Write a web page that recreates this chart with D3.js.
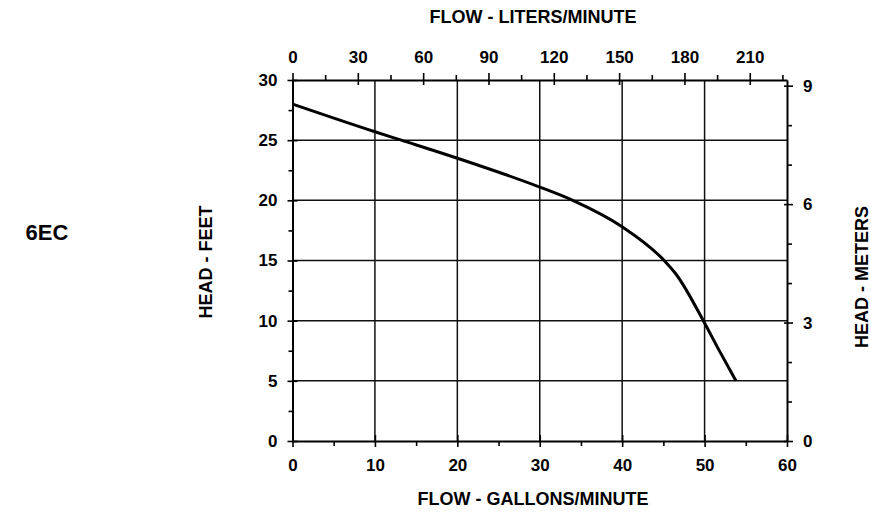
<!DOCTYPE html>
<meta charset="utf-8">
<style>
  body { margin: 0; background: #fff; }
  text { font-family: "Liberation Sans", Arial, sans-serif; font-weight: bold; fill: #000; }
  .axis path { stroke: #000; stroke-width: 2; }
  .axis line { stroke: #000; stroke-width: 1.6; }
  .axis text { font-size: 17px; }
  .grid line { stroke: #111; stroke-width: 1.5; }
</style>
<svg width="871" height="512"></svg>
<script src="https://cdnjs.cloudflare.com/ajax/libs/d3/7.8.5/d3.min.js"></script>
<script>
  // pump curve: flow in gpm, head in feet
  var flowGpm = [0, 10, 13.2, 20, 30, 34, 40, 45.1, 46.5, 49.85, 51.75, 53.8];
  var headFt = [28, 25.7, 25, 23.5, 21.1, 20, 17.8, 15, 13.9, 10, 7.55, 5];

  var gpmTicks = [0, 10, 20, 30, 40, 50, 60];
  var gpmMinor = [5, 15, 25, 35, 45, 55];
  var ftTicks = [0, 5, 10, 15, 20, 25, 30];
  var ftMinor = [2.5, 7.5, 12.5, 17.5, 22.5, 27.5];
  var lpmTicks = [0, 30, 60, 90, 120, 150, 180, 210];
  var lpmMinor = [15, 45, 75, 105, 135, 165, 195, 225];
  var mTicks = [0, 3, 6, 9];
  var mMinor = [1, 2, 4, 5, 7, 8];

  var svg = d3.select("svg");
  var pLeft = 292.5, pRight = 787, pTop = 80, pBottom = 441;

  var x = d3.scaleLinear().domain([0, 60]).range([pLeft, pRight]);
  var y = d3.scaleLinear().domain([0, 30]).range([pBottom, pTop]);
  var xL = d3.scaleLinear().domain([0, 60 * 3.785]).range([pLeft, pRight]);
  var yM = d3.scaleLinear().domain([0, 30 / 3.281]).range([pBottom, pTop]);

  // grid
  var grid = svg.append("g").attr("class", "grid");
  grid.selectAll(".v").data(gpmTicks.slice(1, -1)).enter().append("line")
    .attr("x1", x).attr("x2", x).attr("y1", pTop).attr("y2", pBottom);
  grid.selectAll(".h").data(ftTicks.slice(1, -1)).enter().append("line")
    .attr("y1", y).attr("y2", y).attr("x1", pLeft).attr("x2", pRight);

  function crossTicks(g, attr, inner) {
    g.selectAll(".tick line").attr(attr, inner);
  }

  // bottom
  var gb = svg.append("g").attr("class", "axis").attr("transform", "translate(0," + pBottom + ")");
  gb.call(d3.axisBottom(x).tickValues(gpmTicks).tickSize(6).tickSizeOuter(0).tickPadding(12).tickFormat(d3.format("d")));
  crossTicks(gb, "y1", -6);
  svg.append("g").attr("class", "axis").attr("transform", "translate(0," + pBottom + ")")
    .call(d3.axisBottom(x).tickValues(gpmMinor).tickSize(5).tickFormat(""))
    .select(".domain").remove();

  // left
  var gl = svg.append("g").attr("class", "axis").attr("transform", "translate(" + pLeft + ",0)");
  gl.call(d3.axisLeft(y).tickValues(ftTicks).tickSize(5).tickSizeOuter(0).tickPadding(10).tickFormat(d3.format("d")));
  crossTicks(gl, "x1", 5);
  svg.append("g").attr("class", "axis").attr("transform", "translate(" + pLeft + ",0)")
    .call(d3.axisLeft(y).tickValues(ftMinor).tickSize(4).tickFormat(""))
    .select(".domain").remove();

  // top (liters)
  var gt = svg.append("g").attr("class", "axis").attr("transform", "translate(0," + pTop + ")");
  gt.call(d3.axisTop(xL).tickValues(lpmTicks).tickSize(7).tickSizeOuter(0).tickPadding(10).tickFormat(d3.format("d")));
  crossTicks(gt, "y1", 5);
  svg.append("g").attr("class", "axis").attr("transform", "translate(0," + pTop + ")")
    .call(d3.axisTop(xL).tickValues(lpmMinor).tickSize(5).tickFormat(""))
    .select(".domain").remove();

  // right (meters)
  var gr = svg.append("g").attr("class", "axis").attr("transform", "translate(" + pRight + ",0)");
  gr.call(d3.axisRight(yM).tickValues(mTicks).tickSize(6).tickSizeOuter(0).tickPadding(10).tickFormat(d3.format("d")));
  crossTicks(gr, "x1", -3);
  svg.append("g").attr("class", "axis").attr("transform", "translate(" + pRight + ",0)")
    .call(d3.axisRight(yM).tickValues(mMinor).tickSize(5).tickFormat(""))
    .select(".domain").remove();

  // curve
  var line = d3.line()
    .x(function(d) { return x(d[0]); })
    .y(function(d) { return y(d[1]); })
    .curve(d3.curveMonotoneX);
  svg.append("path")
    .datum(d3.zip(flowGpm, headFt))
    .attr("fill", "none")
    .attr("stroke", "#000")
    .attr("stroke-width", 3)
    .attr("d", line);

  // titles
  svg.append("text").attr("x", 533).attr("y", 23).attr("text-anchor", "middle")
    .style("font-size", "18px").text("FLOW - LITERS/MINUTE");
  svg.append("text").attr("x", 533).attr("y", 505).attr("text-anchor", "middle")
    .style("font-size", "18px").text("FLOW - GALLONS/MINUTE");
  svg.append("text").attr("transform", "translate(212,262) rotate(-90)").attr("text-anchor", "middle")
    .style("font-size", "18px").text("HEAD - FEET");
  svg.append("text").attr("transform", "translate(868,277) rotate(-90)").attr("text-anchor", "middle")
    .style("font-size", "18px").text("HEAD - METERS");
  svg.append("text").attr("x", 47).attr("y", 240).attr("text-anchor", "middle")
    .style("font-size", "22px").text("6EC");
</script>
